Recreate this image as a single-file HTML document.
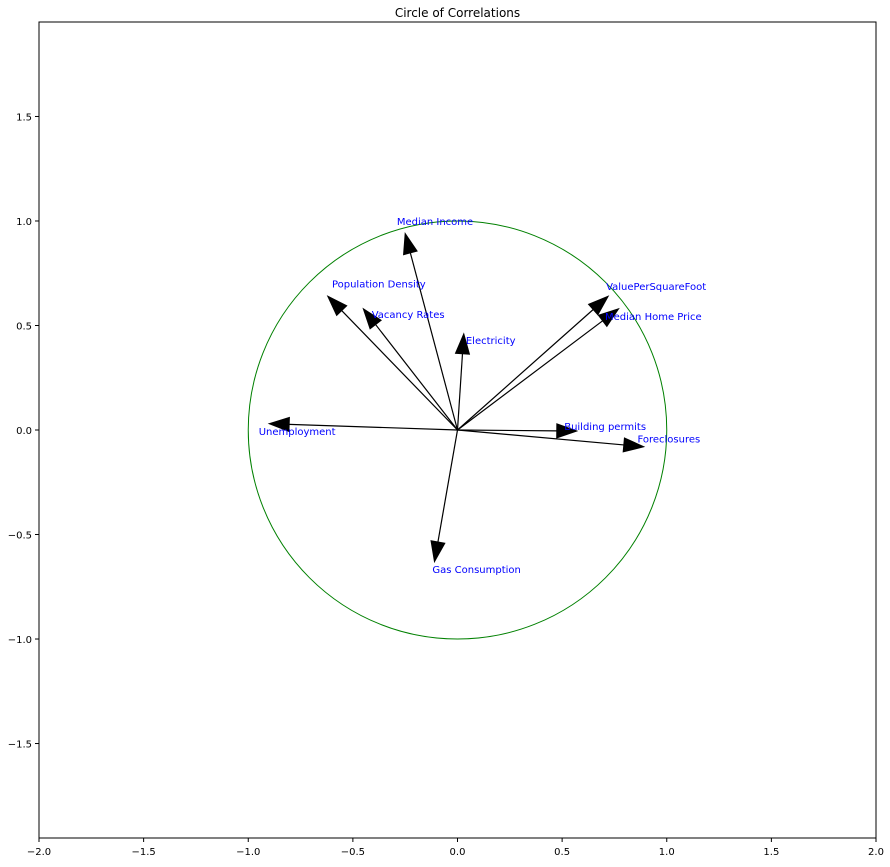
<!DOCTYPE html>
<html><head><meta charset="utf-8"><style>
body{margin:0;background:#fff;}
svg text{font-family:"DejaVu Sans","Liberation Sans",sans-serif;}
</style></head><body>
<svg id="chart" width="890" height="862" xmlns="http://www.w3.org/2000/svg"></svg>
<script>
const varNames=["Median Income","Population Density","Vacancy Rates","Electricity","ValuePerSquareFoot","Median Home Price","Unemployment","Building permits","Foreclosures","Gas Consumption"];
const pc1=[-0.25,-0.62,-0.45,0.03,0.72,0.77,-0.90,0.57,0.89,-0.11];
const pc2=[0.94,0.64,0.58,0.46,0.64,0.58,0.03,-0.005,-0.08,-0.63];
const labelX=[-0.29,-0.60,-0.41,0.04,0.71,0.705,-0.95,0.51,0.86,-0.12];
const labelY=[1.0,0.70,0.555,0.43,0.69,0.545,-0.005,0.02,-0.04,-0.665];
const xTicks=[-2,-1.5,-1,-0.5,0,0.5,1,1.5,2];
const xTickLabels=["−2.0","−1.5","−1.0","−0.5","0.0","0.5","1.0","1.5","2.0"];
const yTicks=[-1.5,-1,-0.5,0,0.5,1,1.5];
const yTickLabels=["−1.5","−1.0","−0.5","0.0","0.5","1.0","1.5"];
const L=39,R=876,T=22,B=838,xmin=-2,xmax=2,ymin=-1.952,ymax=1.952;
const sx=v=>L+(v-xmin)/(xmax-xmin)*(R-L);
const sy=v=>B-(v-ymin)/(ymax-ymin)*(B-T);
const svg=document.getElementById('chart');
const NS="http://www.w3.org/2000/svg";
function mk(tag,attrs,parent){const e=document.createElementNS(NS,tag);for(const k in attrs)e.setAttribute(k,attrs[k]);(parent||svg).appendChild(e);return e;}
let t=mk('text',{x:457.5,y:17,'text-anchor':'middle','font-size':12});t.textContent="Circle of Correlations";


const circ=mk('ellipse',{cx:sx(0),cy:sy(0),rx:sx(1)-sx(0),ry:sy(0)-sy(1),fill:'none',stroke:'green','stroke-width':1});


for(let i=0;i<varNames.length;i++){
  const g=mk('g',{});
  
  
  const x0=sx(0),y0=sy(0),x1=sx(pc1[i]),y1=sy(pc2[i]);
  const dx=x1-x0,dy=y1-y0,len=Math.hypot(dx,dy),ux=dx/len,uy=dy/len;
  const hl=20,hw=7;
  const bx=x1-ux*hl,by=y1-uy*hl;
  mk('line',{x1:x0,y1:y0,x2:bx,y2:by,stroke:'#000','stroke-width':1.2},g);
  mk('polygon',{points:`${x1},${y1} ${bx-uy*hw},${by+ux*hw} ${bx+uy*hw},${by-ux*hw}`,fill:'#000',stroke:'#000'},g);
  const lt=mk('text',{x:sx(labelX[i]),y:sy(labelY[i])+4,'font-size':10,fill:'blue'});
  lt.textContent=varNames[i];
  
  
}
const frame=mk('rect',{x:L,y:T,width:R-L,height:B-T,fill:'none',stroke:'#000','stroke-width':1});


xTicks.forEach((v,i)=>{
  mk('line',{x1:sx(v),x2:sx(v),y1:B,y2:B+4,stroke:'#000'});
  const e=mk('text',{x:sx(v),y:B+17,'text-anchor':'middle','font-size':10});e.textContent=xTickLabels[i];
  
  
});
yTicks.forEach((v,i)=>{
  mk('line',{x1:L-4,x2:L,y1:sy(v),y2:sy(v),stroke:'#000'});
  const e=mk('text',{x:L-7,y:sy(v)+4,'text-anchor':'end','font-size':10});e.textContent=yTickLabels[i];
  
  
});
</script>
</body></html>
